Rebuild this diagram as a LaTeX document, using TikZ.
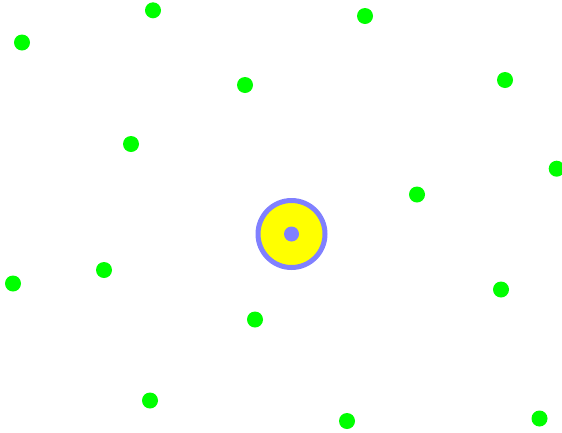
\documentclass[tikz,border=0pt]{standalone}
\usepackage{xcolor}
\usepackage{tikz}

\definecolor{dotgreen}{HTML}{00FF00}
\definecolor{ringblue}{HTML}{8080FF}
\definecolor{discyellow}{HTML}{FFFF00}

\begin{document}
\begin{tikzpicture}[x=1pt, y=-1pt,
    particle/.style={circle, fill=dotgreen, inner sep=0pt, minimum size=16pt},
    core/.style={circle, fill=ringblue, inner sep=0pt, minimum size=15pt}]

    % Canvas (same size as the reference)
    \useasboundingbox (0,0) rectangle (562,432);

    % ==========================================
    % Central disc with ring
    % ==========================================
    \fill[discyellow] (291.5,234) circle (33.5);
    \draw[ringblue, line width=5pt] (291.5,234) circle (33.5);
    \node[core] (centre) at (291.5,234) {};

    % ==========================================
    % Scattered green dots
    % ==========================================
    \foreach \px/\py [count=\i] in {22/42.5, 153/10.3, 365/16, 245/85, 505/80,
                                   131/144, 556.7/168.7, 417/194.5, 13/283.5,
                                   104/270, 501/289.5, 255/319.5, 150/400.5,
                                   347/421, 539.5/418.5}
        \node[particle] (p\i) at (\px,\py) {};

\end{tikzpicture}
\end{document}
